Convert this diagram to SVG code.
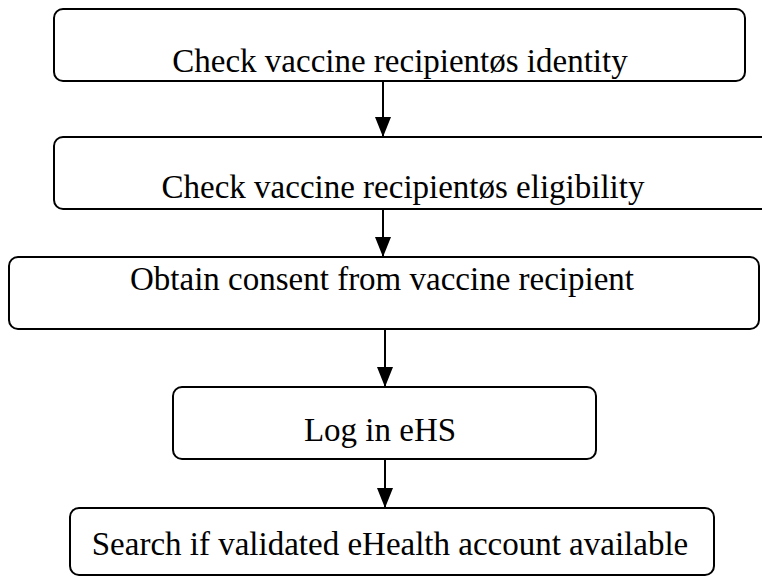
<svg xmlns="http://www.w3.org/2000/svg" width="762" height="578" viewBox="0 0 762 578">
<style>
.box{fill:#fff;stroke:#000;stroke-width:2}
.lbl{font-family:"Liberation Serif","Times New Roman",serif;font-size:33px;fill:#000;text-anchor:middle}
.conn{stroke:#000;stroke-width:2;fill:none}
</style>
<defs>
<marker id="arr" markerWidth="20" markerHeight="18" refX="19" refY="9" orient="auto" markerUnits="userSpaceOnUse">
<path d="M0,1 L20,9 L0,17 Z" fill="#000"/>
</marker>
</defs>
<rect width="762" height="578" fill="#fff"/>
<g id="n1"><rect class="box" x="54" y="9" width="691" height="72" rx="9"/><text class="lbl" x="400" y="72">Check vaccine recipientøs identity</text></g>
<g id="n2"><rect class="box" x="54" y="137" width="730" height="72" rx="9"/><text class="lbl" x="403" y="198">Check vaccine recipientøs eligibility</text></g>
<g id="n3"><rect class="box" x="9" y="257" width="750" height="72" rx="9"/><text class="lbl" x="382" y="290">Obtain consent from vaccine recipient</text></g>
<g id="n4"><rect class="box" x="173" y="387" width="423" height="72" rx="9"/><text class="lbl" x="380" y="441">Log in eHS</text></g>
<g id="n5"><rect class="box" x="70" y="508" width="644" height="67" rx="9"/><text class="lbl" x="390" y="555">Search if validated eHealth account available</text></g>
<g id="connectors">
<line class="conn" x1="383" y1="81" x2="383" y2="136" marker-end="url(#arr)"/>
<line class="conn" x1="383" y1="209" x2="383" y2="256" marker-end="url(#arr)"/>
<line class="conn" x1="385" y1="329" x2="385" y2="386" marker-end="url(#arr)"/>
<line class="conn" x1="385" y1="459" x2="385" y2="507" marker-end="url(#arr)"/>
</g>
</svg>
